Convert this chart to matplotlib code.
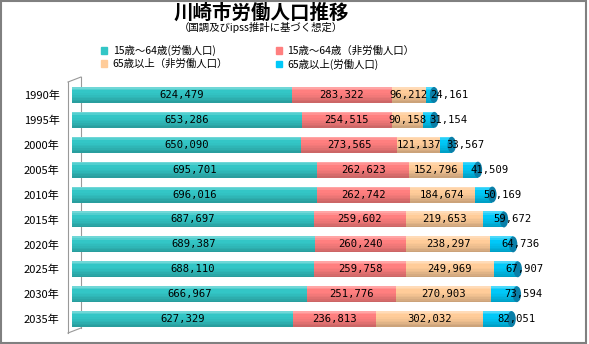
import numpy as np
import matplotlib.pyplot as plt
from matplotlib.patches import Ellipse, Rectangle
from matplotlib.lines import Line2D
import matplotlib.colors as mcolors

plt.rcParams['font.family'] = ['Noto Sans CJK JP', 'DejaVu Sans']

years = ['1990年', '1995年', '2000年', '2005年', '2010年',
         '2015年', '2020年', '2025年', '2030年', '2035年']
work_15_64 = [624479, 653286, 650090, 695701, 696016, 687697, 689387, 688110, 666967, 627329]
nonwork_15_64 = [283322, 254515, 273565, 262623, 262742, 259602, 260240, 259758, 251776, 236813]
nonwork_65 = [96212, 90158, 121137, 152796, 184674, 219653, 238297, 249969, 270903, 302032]
work_65 = [24161, 31154, 33567, 41509, 50169, 59672, 64736, 67907, 73594, 82051]

names = ['15歳～64歳(労働人口)', '15歳～64歳（非労働人口）',
         '65歳以上（非労働人口）', '65歳以上(労働人口)']
colors = ['#33C6C6', '#FF7F7F', '#FFCC99', '#00C8F8']
series = [work_15_64, nonwork_15_64, nonwork_65, work_65]

W, H = 589, 344
fig = plt.figure(figsize=(W / 100, H / 100), dpi=100)
ax = fig.add_axes([72 / W, 1 - 334 / H, 493 / W, 254 / H])
ax.set_facecolor('none')

y = np.arange(len(years))
bh = 0.64
nstrip = 10
# vertical shading factors top->bottom to fake a cylinder
fac = [1.12, 1.06, 1.0, 1.0, 0.98, 0.95, 0.92, 0.88, 0.84, 0.8]


def shade(c, f):
    r = np.array(mcolors.to_rgb(c))
    if f >= 1:
        return tuple(r + (1 - r) * (f - 1) * 2.5)
    return tuple(r * f)


left = np.zeros(len(years))
handles = []
for vals, col in zip(series, colors):
    vals = np.array(vals, dtype=float)
    for k in range(nstrip):
        off = -bh / 2 + (k + 0.5) * bh / nstrip
        ax.barh(y + off, vals, height=bh / nstrip, left=left,
                color=shade(col, fac[k]), linewidth=0, zorder=2)
    handles.append(Rectangle((0, 0), 1, 1, color=col))
    left = left + vals

# end caps
for yi, tot in zip(y, left):
    ax.add_patch(Ellipse((tot, yi), 24000, bh, color='#0A7FA8', zorder=3, lw=0))

# value labels
left = np.zeros(len(years))
for si, vals in enumerate(series):
    for i, v in enumerate(vals):
        if si < 3:
            ax.text(left[i] + v / 2, y[i], f'{v:,}', ha='center', va='center',
                    fontsize=7.6, family='DejaVu Sans Mono', zorder=5)
        else:
            ax.text(left[i] + v / 2, y[i], f'{v:,}', ha='left', va='center',
                    fontsize=7.6, family='DejaVu Sans Mono', zorder=5)
    left = left + np.array(vals)

ax.set_xlim(0, 1.4e6)
ax.set_ylim(9.6, -0.6)
ax.set_yticks(y)
ax.set_yticklabels(years, fontsize=8)
ax.tick_params(axis='y', length=0, pad=9)
ax.set_xticks([])
for s in ax.spines.values():
    s.set_visible(False)

# 3D side wall
def px(x, yy):
    return x / W, 1 - yy / H

wall = [((68, 82), (81, 77)), ((81, 77), (81, 328)), ((81, 328), (68, 333)), ((68, 82), (68, 333))]
for (a, b) in wall:
    p1, p2 = px(*a), px(*b)
    fig.add_artist(Line2D([p1[0], p2[0]], [p1[1], p2[1]], color='#999999', lw=0.8, zorder=-1))

fig.text(261 / W, 1 - 13 / H, '川崎市労働人口推移', ha='center', va='center',
         fontsize=14, fontweight='bold')
fig.text(261 / W, 1 - 27 / H, '（国調及びipss推計に基づく想定）', ha='center', va='center',
         fontsize=7.5)

order = [0, 2, 1, 3]
fig.legend([handles[i] for i in order], [names[i] for i in order], ncol=2,
           loc='upper left', bbox_to_anchor=(96 / W, 1 - 40 / H), frameon=False,
           fontsize=7.5, handlelength=0.6, handleheight=0.6, handletextpad=0.5,
           columnspacing=4.6, labelspacing=0.25, borderpad=0)

fig.add_artist(Rectangle((0.001, 0.003), 0.994, 0.995, transform=fig.transFigure,
                         fill=False, edgecolor='#808080', lw=1.5))

fig.savefig('out.png', dpi=100)
